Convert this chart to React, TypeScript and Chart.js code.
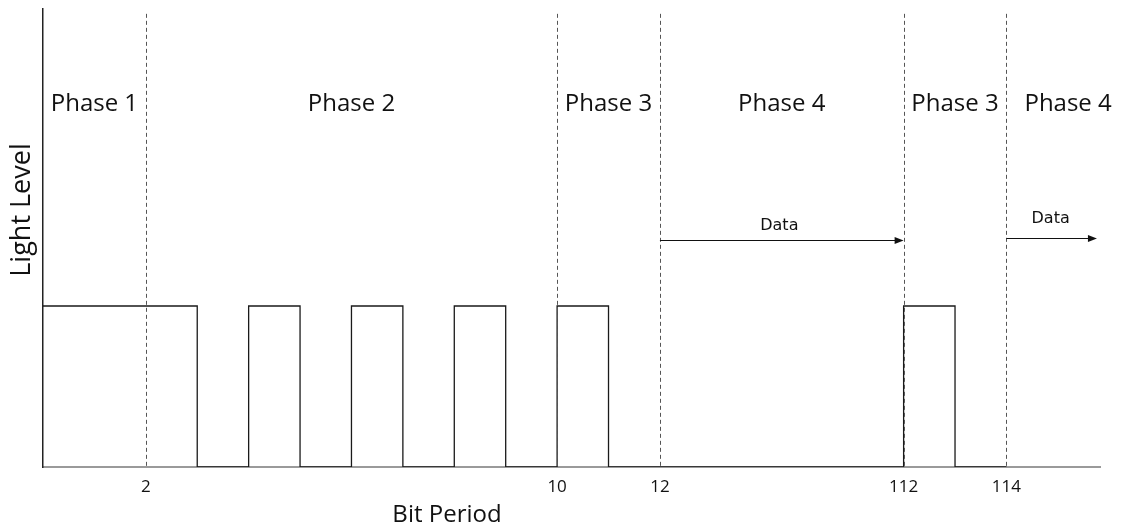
import { useEffect, useRef } from 'react';
import { Chart, registerables } from 'chart.js';

Chart.register(...registerables);

// ---- data (bit periods) ----
const edgeBits = [0, 3, 4, 5, 6, 7, 8, 9, 10, 11, 112, 113, 114];
const levels = [1, 0, 1, 0, 1, 0, 1, 0, 1, 0, 1, 0, 0];
const tickBits = [2, 10, 12, 112, 114];
const tickLabels = ['2', '10', '12', '112', '114'];
const dividerBits = [2, 10, 12, 112, 114];
const phaseLabels = ['Phase 1', 'Phase 2', 'Phase 3', 'Phase 4', 'Phase 3', 'Phase 4'];
const phaseBits = [1, 6, 11, 62, 113, 115.2];
const arrowStartBits = [12, 114];
const arrowEndBits = [112, 115.76];
const arrowLevels = [1.41, 1.42];
const arrowLabels = ['Data', 'Data'];
const arrowLabelBits = [61, 114.86];
const arrowLabelLevels = [1.498, 1.543];
const axisEndBits = 115.82;
const yMax = 2.845;
const phaseLabelLevel = 2.256;
const dividerTopLevel = 2.815;

// broken axis: bits 12..112 are compressed
const BREAK_START = 12;
const BREAK_END = 112;
const BREAK_SPAN = 4.74;
function toDisplay(b: number): number {
  if (b <= BREAK_START) return b;
  if (b <= BREAK_END) return BREAK_START + ((b - BREAK_START) * BREAK_SPAN) / (BREAK_END - BREAK_START);
  return BREAK_START + BREAK_SPAN + (b - BREAK_END);
}

const overlayPlugin = {
  id: 'overlay',
  afterDatasetsDraw(chart: any) {
    const { ctx, scales } = chart;
    const xs = scales.x;
    const ys = scales.y;
    ctx.save();
    // dashed dividers
    ctx.strokeStyle = '#555';
    ctx.lineWidth = 1;
    ctx.setLineDash([4, 3]);
    dividerBits.forEach((b) => {
      const x = Math.round(xs.getPixelForValue(toDisplay(b))) + 0.5;
      ctx.beginPath();
      ctx.moveTo(x, ys.getPixelForValue(dividerTopLevel));
      ctx.lineTo(x, ys.getPixelForValue(0));
      ctx.stroke();
    });
    ctx.setLineDash([]);
    // phase labels
    ctx.fillStyle = '#111';
    ctx.font = '24px "Open Sans"';
    ctx.textAlign = 'center';
    ctx.textBaseline = 'middle';
    phaseLabels.forEach((t, i) => {
      ctx.fillText(t, xs.getPixelForValue(toDisplay(phaseBits[i])), ys.getPixelForValue(phaseLabelLevel));
    });
    // arrows
    ctx.strokeStyle = '#111';
    ctx.fillStyle = '#111';
    ctx.lineWidth = 1.2;
    arrowStartBits.forEach((b, i) => {
      const x1 = xs.getPixelForValue(toDisplay(b));
      const x2 = xs.getPixelForValue(toDisplay(arrowEndBits[i]));
      const y = Math.round(ys.getPixelForValue(arrowLevels[i])) + 0.5;
      ctx.beginPath();
      ctx.moveTo(x1, y);
      ctx.lineTo(x2 - 6, y);
      ctx.stroke();
      ctx.beginPath();
      ctx.moveTo(x2, y);
      ctx.lineTo(x2 - 9, y - 3.5);
      ctx.lineTo(x2 - 9, y + 3.5);
      ctx.closePath();
      ctx.fill();
    });
    ctx.font = '16px "DejaVu Sans"';
    arrowLabels.forEach((t, i) => {
      ctx.fillText(t, xs.getPixelForValue(toDisplay(arrowLabelBits[i])), ys.getPixelForValue(arrowLabelLevels[i]));
    });
    // axis titles
    ctx.font = '24px "Open Sans"';
    ctx.fillText('Bit Period', 447, 515);
    ctx.save();
    ctx.translate(22, 210);
    ctx.rotate(-Math.PI / 2);
    ctx.font = '27px "Open Sans"';
    ctx.fillText('Light Level', 0, 0);
    ctx.restore();
    ctx.restore();
  },
};

export default function App() {
  const ref = useRef<HTMLCanvasElement | null>(null);
  useEffect(() => {
    if (!ref.current) return;
    const points = edgeBits.map((b, i) => ({ x: toDisplay(b), y: levels[i] }));
    const chart = new Chart(ref.current, {
      type: 'line',
      data: {
        datasets: [
          {
            data: points,
            borderColor: '#1a1a1a',
            borderWidth: 1.3,
            pointRadius: 0,
            stepped: 'before',
            fill: false,
          },
        ],
      },
      options: {
        animation: false,
        responsive: true,
        maintainAspectRatio: false,
        parsing: false as any,
        layout: { padding: { top: 9, right: 22, left: 0, bottom: 0 } },
        plugins: { legend: { display: false }, tooltip: { enabled: false } },
        scales: {
          x: {
            type: 'linear',
            min: 0,
            max: toDisplay(axisEndBits),
            grid: { display: false, drawTicks: false },
            border: { display: true, color: '#9a9a9a', width: 2 },
            afterBuildTicks: (s: any) => {
              s.ticks = tickBits.map((b) => ({ value: toDisplay(b) }));
            },
            afterFit: (s: any) => {
              s.height = 62;
            },
            ticks: {
              autoSkip: false,
              maxRotation: 0,
              padding: 10,
              color: '#111',
              font: { family: '"Open Sans"', size: 17 },
              callback: (_v: any, i: number) => tickLabels[i],
            },
          },
          y: {
            type: 'linear',
            min: 0,
            max: yMax,
            grid: { display: false, drawTicks: false },
            border: { display: true, color: '#222', width: 1.5 },
            ticks: { display: false },
            afterFit: (s: any) => {
              s.width = 43;
            },
          },
        },
      },
      plugins: [overlayPlugin],
    });
    return () => chart.destroy();
  }, []);
  return (
    <div style={{ position: 'fixed', left: 0, top: 0, width: 1122, height: 529, background: '#fff' }}>
      <canvas ref={ref} />
    </div>
  );
}
